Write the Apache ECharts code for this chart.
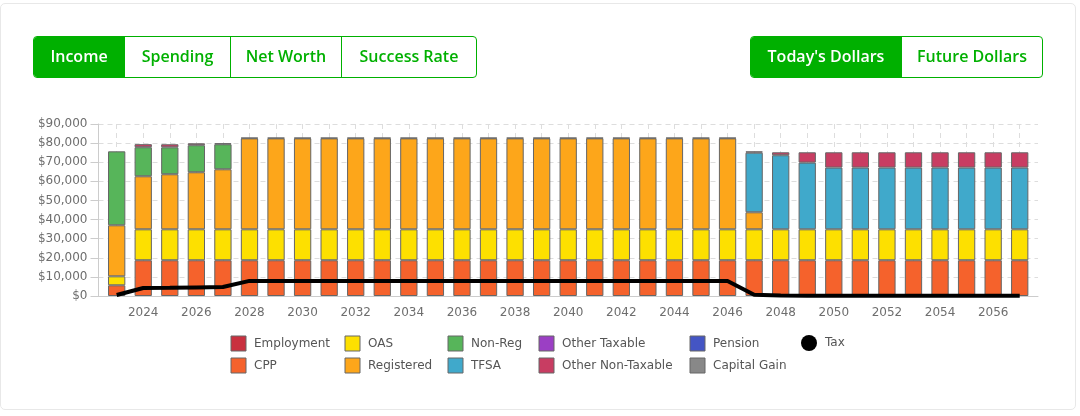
<!DOCTYPE html>
<html>
<head>
<meta charset="utf-8">
<script src="https://cdn.jsdelivr.net/npm/echarts@6/dist/echarts.min.js"></script>
<style>
    html, body { margin: 0; padding: 0; background: #fff; }
    body { width: 1080px; height: 416px; overflow: hidden; position: relative; }
    #card {
        position: absolute; left: 0; top: 3px; width: 1074px; height: 405px;
        border: 1px solid #e8e8e8; border-radius: 5px;
    }
    #container { position: absolute; left: 0; top: 0; width: 1080px; height: 416px; }
    .group {
        position: absolute; top: 36px; height: 40px; display: flex;
        border: 1px solid #00b000; border-radius: 4px; overflow: hidden; z-index: 2;
        font-family: "Open Sans", sans-serif; font-weight: 600; font-size: 16px; color: #00b000;
    }
    .group div {
        display: flex; align-items: center; justify-content: center;
        border-left: 1px solid #00b000; box-sizing: border-box; padding-bottom: 2px;
    }
    .group div:first-child { border-left: none; }
    .group .active { background: #00b000; color: #fff; }
</style>
</head>
<body>
<div id="card"></div>
<div class="group" style="left:33px;width:442px">
    <div class="active" style="width:90px">Income</div>
    <div style="width:106px">Spending</div>
    <div style="width:111px">Net Worth</div>
    <div style="width:135px">Success Rate</div>
</div>
<div class="group" style="left:750px;width:291px">
    <div class="active" style="width:150px">Today's Dollars</div>
    <div style="width:141px">Future Dollars</div>
</div>
<div id="container"></div>
<script>
var years = ['2023', '2024', '2025', '2026', '2027', '2028', '2029', '2030', '2031', '2032', '2033', '2034', '2035', '2036', '2037', '2038', '2039', '2040',
    '2041', '2042', '2043', '2044', '2045', '2046', '2047', '2048', '2049', '2050', '2051', '2052', '2053', '2054', '2055', '2056', '2057'];

var employment = [];
var cpp = [5600, 18700, 18700, 18700, 18700, 18700, 18700, 18700, 18700, 18700, 18700, 18700, 18700, 18700, 18700, 18700, 18700, 18700,
    18700, 18700, 18700, 18700, 18700, 18700, 18700, 18700, 18700, 18700, 18700, 18700, 18700, 18700, 18700, 18700, 18700];
var oas = [4700, 16200, 16200, 16200, 16200, 16200, 16200, 16200, 16200, 16200, 16200, 16200, 16200, 16200, 16200, 16200, 16200, 16200,
    16200, 16200, 16200, 16200, 16200, 16200, 16200, 16200, 16200, 16200, 16200, 16200, 16200, 16200, 16200, 16200, 16200];
var registered = [26700, 27750, 28800, 29850, 31400, 47600, 47600, 47600, 47600, 47600, 47600, 47600, 47600, 47600, 47600, 47600, 47600, 47600,
    47600, 47600, 47600, 47600, 47600, 47600, 8900, null, null, null, null, null, null, null, null, null, null];
var nonReg = [38700, 15200, 14100, 14150, 13100, null, null, null, null, null, null, null, null, null, null, null, null, null,
    null, null, null, null, null, null, null, null, null, null, null, null, null, null, null, null, null];
var tfsa = [null, null, null, null, null, null, null, null, null, null, null, null, null, null, null, null, null, null,
    null, null, null, null, null, null, 31200, 38750, 34900, 32300, 32300, 32300, 32300, 32300, 32300, 32300, 32300];
var otherTaxable = [];
var otherNonTaxable = [null, 1600, 1600, 1000, 500, 300, 300, 300, 300, 300, 300, 300, 300, 300, 300, 300, 300, 300,
    300, 300, 300, 300, 300, 300, 700, 1550, 5400, 8000, 8000, 8000, 8000, 8000, 8000, 8000, 8000];
var pension = [];
var capitalGain = [];
var tax = [500, 4200, 4300, 4500, 4700, 7900, 7900, 7900, 7900, 7900, 7900, 7900, 7900, 7900, 7900, 7900, 7900, 7900,
    7900, 7900, 7900, 7900, 7900, 7900, 700, 200, 100, 100, 100, 100, 100, 100, 100, 100, 100];

var chart = echarts.init(document.getElementById('container'));
var fontName = '"DejaVu Sans", sans-serif';
var axisColor = '#ccc';
var textColor = '#6e6e6e';
var dashed = { color: '#ddd', type: [5, 4] };

function barSeries(name, values, color) {
    return {
        name: name,
        type: 'bar',
        stack: 'income',
        xAxisIndex: 1,
        yAxisIndex: 1,
        barWidth: 17.3,
        data: values,
        itemStyle: { color: color, borderColor: '#666', borderWidth: 1 }
    };
}

function legendColumn(left, names) {
    return {
        left: left,
        top: 335.5,
        orient: 'vertical',
        padding: 0,
        icon: 'rect',
        itemWidth: 15,
        itemHeight: 15,
        itemGap: 6,
        data: names,
        selectedMode: false,
        itemStyle: { borderWidth: 1, borderColor: '#666' },
        textStyle: { color: '#555', fontFamily: fontName, fontSize: 12, padding: [0, 0, 0, 3] }
    };
}

var taxLegend = legendColumn(801, [{ name: 'Tax', icon: 'circle', itemStyle: { color: '#000', borderWidth: 0 } }]);
taxLegend.itemWidth = 16;
taxLegend.itemHeight = 16;
taxLegend.top = 335;

var option = {
    animation: false,
    // grid 0 draws the frame, which runs past the outer bands; grid 1 holds the years and the marks
    grid: [
        { left: 98.5, right: 42, top: 124, bottom: 120 },
        { left: 103.4, right: 47, top: 124, bottom: 120 }
    ],
    legend: [
        legendColumn(230.5, ['Employment', 'CPP']),
        legendColumn(344.5, ['OAS', 'Registered']),
        legendColumn(447.5, ['Non-Reg', 'TFSA']),
        legendColumn(538.5, ['Other Taxable', 'Other Non-Taxable']),
        legendColumn(689.5, ['Pension', 'Capital Gain']),
        taxLegend
    ],
    xAxis: [{
        gridIndex: 0,
        type: 'value',
        min: 0,
        max: 1,
        axisLine: { onZero: false, lineStyle: { color: axisColor } },
        axisTick: { show: false },
        axisLabel: { show: false },
        splitLine: { show: false }
    }, {
        gridIndex: 1,
        type: 'category',
        data: years,
        axisLine: { show: false },
        axisTick: { alignWithLabel: true, interval: 0, length: 5, lineStyle: { color: axisColor } },
        axisLabel: {
            interval: function (i) { return i % 2 === 1; },
            color: textColor,
            fontFamily: fontName,
            fontSize: 12,
            margin: 11
        },
        splitLine: { show: true, alignWithLabel: true, interval: 0, lineStyle: dashed }
    }],
    yAxis: [{
        gridIndex: 0,
        type: 'value',
        min: 0,
        max: 90000,
        interval: 10000,
        axisLine: { show: true, lineStyle: { color: axisColor } },
        axisTick: { show: true, length: 8, lineStyle: { color: axisColor } },
        axisLabel: {
            formatter: function (v) { return '$' + v.toLocaleString('en-US'); },
            color: textColor,
            fontFamily: fontName,
            fontSize: 12,
            margin: 11
        },
        splitLine: { show: true, lineStyle: dashed }
    }, {
        gridIndex: 1,
        type: 'value',
        min: 0,
        max: 90000,
        show: false
    }],
    series: [
        barSeries('Employment', employment, '#c9303f'),
        barSeries('CPP', cpp, '#f5622c'),
        barSeries('OAS', oas, '#fde000'),
        barSeries('Registered', registered, '#fda61a'),
        barSeries('Non-Reg', nonReg, '#57b55a'),
        barSeries('TFSA', tfsa, '#40a9cb'),
        barSeries('Other Taxable', otherTaxable, '#9b3fc4'),
        barSeries('Other Non-Taxable', otherNonTaxable, '#c83d62'),
        barSeries('Pension', pension, '#4455c4'),
        barSeries('Capital Gain', capitalGain, '#888888'),
        {
            name: 'Tax',
            type: 'line',
            xAxisIndex: 1,
            yAxisIndex: 1,
            data: tax,
            showSymbol: false,
            symbol: 'none',
            clip: false,
            z: 5,
            lineStyle: { color: '#000', width: 4 },
            itemStyle: { color: '#000' }
        }
    ]
};
chart.setOption(option);
</script>
</body>
</html>
